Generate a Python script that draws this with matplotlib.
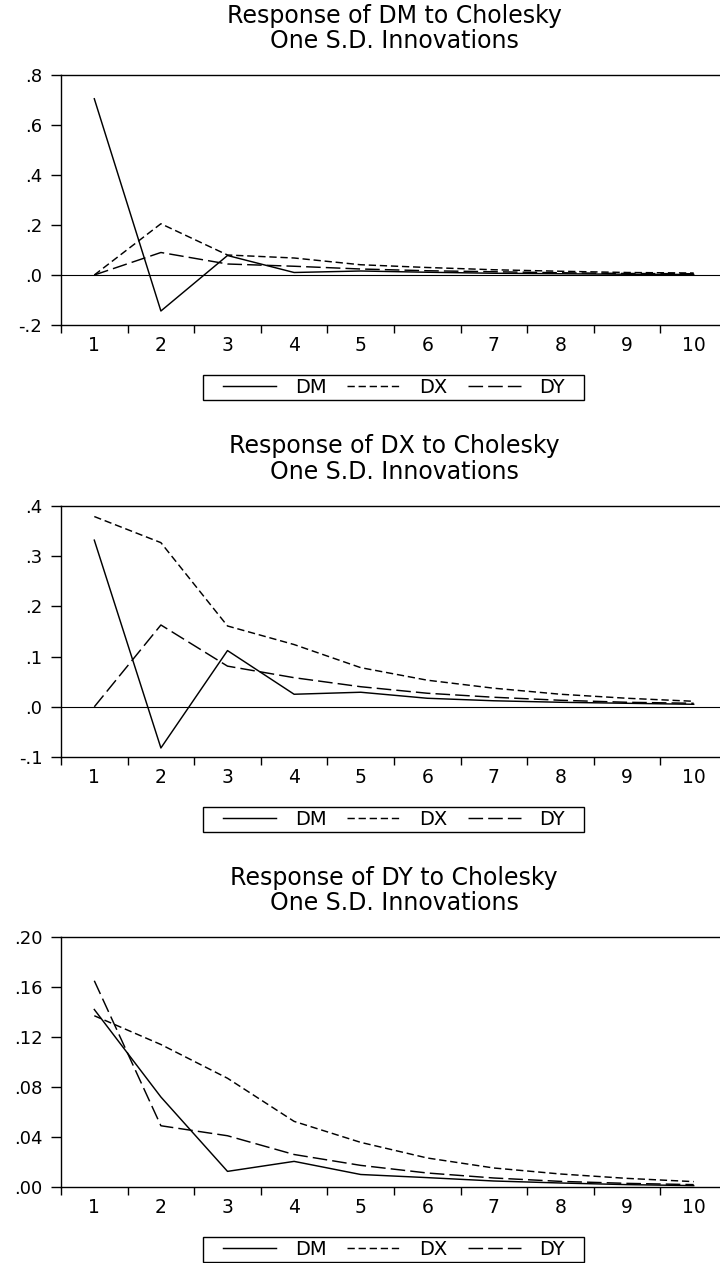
import matplotlib.pyplot as plt
from matplotlib.patches import Rectangle

# impulse responses, periods 1..10
periods = list(range(1, 11))
shocks = ['DM', 'DX', 'DY']

# response of DM
dm_to_dm = [0.705, -0.144, 0.078, 0.010, 0.016, 0.011, 0.007, 0.005, 0.003, 0.002]
dm_to_dx = [0.0, 0.205, 0.080, 0.068, 0.041, 0.030, 0.021, 0.015, 0.010, 0.008]
dm_to_dy = [0.0, 0.090, 0.044, 0.035, 0.024, 0.017, 0.013, 0.009, 0.006, 0.005]

# response of DX
dx_to_dm = [0.332, -0.082, 0.112, 0.025, 0.029, 0.017, 0.012, 0.009, 0.007, 0.005]
dx_to_dx = [0.379, 0.327, 0.161, 0.124, 0.078, 0.053, 0.037, 0.025, 0.017, 0.011]
dx_to_dy = [0.0, 0.163, 0.081, 0.058, 0.040, 0.027, 0.019, 0.013, 0.009, 0.007]

# response of DY
dy_to_dm = [0.142, 0.072, 0.0125, 0.0205, 0.010, 0.0075, 0.0048, 0.0032, 0.0019, 0.0011]
dy_to_dx = [0.137, 0.114, 0.087, 0.0525, 0.0357, 0.0232, 0.0152, 0.0104, 0.0069, 0.0043]
dy_to_dy = [0.165, 0.049, 0.041, 0.026, 0.0173, 0.0112, 0.0072, 0.0045, 0.0029, 0.0019]

titles = ['Response of DM to Cholesky\nOne S.D. Innovations',
          'Response of DX to Cholesky\nOne S.D. Innovations',
          'Response of DY to Cholesky\nOne S.D. Innovations']
responses = [[dm_to_dm, dm_to_dx, dm_to_dy],
             [dx_to_dm, dx_to_dx, dx_to_dy],
             [dy_to_dm, dy_to_dx, dy_to_dy]]
ylims = [(-0.2, 0.8), (-0.1, 0.4), (0.0, 0.2)]
yticks = [[-0.2, 0.0, 0.2, 0.4, 0.6, 0.8],
          [-0.1, 0.0, 0.1, 0.2, 0.3, 0.4],
          [0.0, 0.04, 0.08, 0.12, 0.16, 0.20]]
ytick_labels = [['-.2', '.0', '.2', '.4', '.6', '.8'],
                ['-.1', '.0', '.1', '.2', '.3', '.4'],
                ['.00', '.04', '.08', '.12', '.16', '.20']]

styles = ['-', (0, (5, 2.6)), (0, (10, 3.5))]

W, H = 720, 1263
fig = plt.figure(figsize=(W / 100, H / 100), dpi=100)
plt.rcParams['font.family'] = ['DejaVu Sans']

# pixel boxes of the three panels (top, bottom)
panel_px = [(75, 325), (506, 757), (937, 1187)]
left_px, right_px = 61, 727

for k in range(3):
    top, bottom = panel_px[k]
    ax = fig.add_axes([left_px / W, 1 - bottom / H,
                       (right_px - left_px) / W, (bottom - top) / H])

    lines = []
    for vals, ls, name in zip(responses[k], styles, shocks):
        ln, = ax.plot(periods, vals, color='black', lw=1.05, linestyle=ls, label=name)
        lines.append(ln)

    if ylims[k][0] < 0:
        ax.axhline(0, color='black', lw=0.8)

    ax.set_xlim(0.5, 10.5)
    ax.set_ylim(*ylims[k])
    ax.set_yticks(yticks[k])
    ax.set_yticklabels(ytick_labels[k], fontsize=13)
    ax.set_xticks(periods)
    ax.set_xticklabels([str(p) for p in periods], fontsize=13.5)
    ax.set_xticks([p + 0.5 for p in range(0, 11)], minor=True)
    ax.tick_params(axis='x', which='major', length=0, pad=8)
    ax.tick_params(axis='x', which='minor', length=6, width=1, direction='out')
    ax.tick_params(axis='y', length=7.5, width=1, direction='out', pad=6)
    for sp in ax.spines.values():
        sp.set_linewidth(1.0)

    ax.text(0.5, 1.186, titles[k], transform=ax.transAxes, ha='center',
            va='center', fontsize=17, linespacing=1.1)

    # legend box below the axis
    ax.add_patch(Rectangle((0.2132, -0.30), 0.5721, 0.10, transform=ax.transAxes,
                           fill=False, lw=1.0, edgecolor='black', clip_on=False))
    ax.legend(handles=lines, loc='center', bbox_to_anchor=(0.5, -0.25), ncol=3,
              frameon=False, fontsize=14, handlelength=2.75, handletextpad=0.95,
              columnspacing=1.05, borderpad=0)

fig.savefig('out.png', dpi=100)
